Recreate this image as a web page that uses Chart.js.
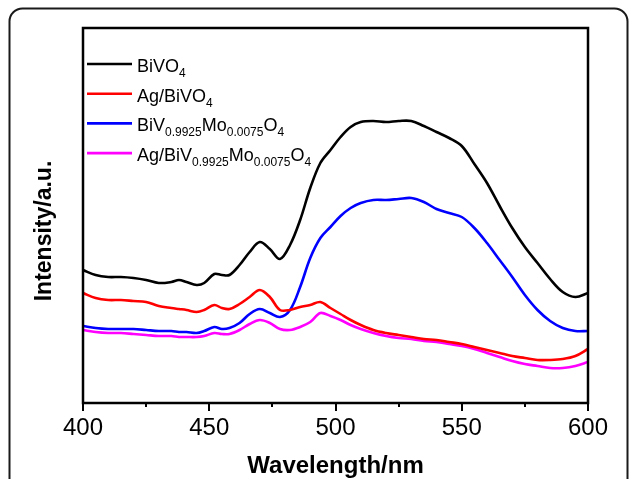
<!DOCTYPE html>
<html>
<head>
<meta charset="utf-8">
<script src="https://cdn.jsdelivr.net/npm/chart.js@4.4.1/dist/chart.umd.min.js"></script>
<style>
    html, body { margin: 0; padding: 0; background: #fff; overflow: hidden; }
    #wrap { position: relative; width: 630px; height: 479px; }
</style>
</head>
<body>
<div id="wrap"><canvas id="plchart" width="630" height="479"></canvas></div>
<script>
"use strict";

/* PL spectra, wavelength in nm, intensity in arbitrary units */
var wavelength = [400, 405, 410, 415, 420, 425, 430, 435, 438, 441, 445, 448, 452, 455, 458, 462, 466, 470, 474, 478,
    482, 486, 490, 494, 498, 502, 506, 510, 515, 520, 525, 530, 535, 540, 545, 550, 555, 560, 565, 570,
    575, 580, 585, 590, 595, 600];

var bivo4 = [133, 128, 126, 126, 125, 123, 120, 121, 123, 121, 118, 120, 129, 128, 128, 138, 151, 161, 154, 144,
    158, 183, 215, 240, 253, 266, 276, 281, 282, 281, 282, 282, 277, 271, 265, 257, 239, 220, 197, 175,
    156, 140, 124, 111, 106, 110];

var agBivo4 = [110, 105, 103, 103, 102, 101, 97, 95, 94, 93, 91, 93, 98, 95, 94, 99, 106, 113, 106, 93,
    93, 96, 98, 101, 95, 89, 83, 78, 73, 70, 68, 66, 64, 63, 61, 59, 56, 53, 50, 47,
    45, 43, 43, 44, 47, 54];

var bivMo = [77, 75, 74, 74, 74, 73, 72, 72, 71, 71, 70, 72, 76, 74, 75, 80, 89, 94, 90, 86,
    93, 116, 145, 165, 176, 187, 195, 200, 203, 203, 204, 205, 201, 194, 190, 186, 175, 160, 143, 126,
    108, 93, 82, 75, 72, 72];

var agBivMo = [73, 71, 70, 70, 69, 68, 67, 67, 66, 66, 66, 67, 70, 69, 69, 73, 79, 83, 80, 74,
    73, 76, 81, 90, 87, 83, 78, 74, 70, 67, 65, 64, 62, 61, 59, 57, 54, 50, 46, 42,
    39, 37, 35, 35, 37, 41];

var xTicks = [400, 450, 500, 550, 600];

/* legend entries: [text, subscript?] pieces */
var legendRows = [
    { color: '#000000', parts: [['BiVO', false], ['4', true]] },
    { color: '#ff0000', parts: [['Ag/BiVO', false], ['4', true]] },
    { color: '#0000ff', parts: [['BiV', false], ['0.9925', true], ['Mo', false], ['0.0075', true], ['O', false], ['4', true]] },
    { color: '#ff00ff', parts: [['Ag/BiV', false], ['0.9925', true], ['Mo', false], ['0.0075', true], ['O', false], ['4', true]] }
];

function toPoints(values) {
    return values.map(function (v, i) {
        return { x: wavelength[i], y: v };
    });
}

function lineSet(label, values, color) {
    return {
        label: label,
        data: toPoints(values),
        borderColor: color,
        backgroundColor: color,
        borderWidth: 2.6,
        pointRadius: 0,
        tension: 0.35,
        fill: false
    };
}

var FONT = "'Liberation Sans', Arial, sans-serif";

/* outer rounded frame, plot box, tick marks, y title and legend */
var decorPlugin = {
    id: 'decor',
    beforeDraw: function (chart) {
        var ctx = chart.ctx;
        ctx.save();
        ctx.strokeStyle = '#1a1a1a';
        ctx.lineWidth = 2;
        ctx.beginPath();
        ctx.roundRect(9.5, 8.5, 618, 520, 13);
        ctx.stroke();
        ctx.restore();
    },
    afterDraw: function (chart) {
        var ctx = chart.ctx;
        var a = chart.chartArea;
        var xs = chart.scales.x;
        ctx.save();

        // plot box
        ctx.strokeStyle = '#000';
        ctx.lineWidth = 2.5;
        ctx.strokeRect(a.left, a.top, a.right - a.left, a.bottom - a.top);

        // x ticks, major every 50 nm, minor every 25 nm
        ctx.lineWidth = 2;
        for (var w = 400; w <= 600; w += 25) {
            var px = Math.round(xs.getPixelForValue(w));
            var len = (w % 50 === 0) ? 8 : 4;
            ctx.beginPath();
            ctx.moveTo(px, a.bottom);
            ctx.lineTo(px, a.bottom + len);
            ctx.stroke();
        }

        // y title
        ctx.fillStyle = '#000';
        ctx.font = 'bold 23px ' + FONT;
        ctx.textAlign = 'center';
        ctx.textBaseline = 'middle';
        ctx.translate(45, 231);
        ctx.rotate(-Math.PI / 2);
        ctx.fillText('Intensity/a.u.', 0, 0);
        ctx.restore();

        // legend
        ctx.save();
        ctx.textAlign = 'left';
        ctx.textBaseline = 'alphabetic';
        ctx.fillStyle = '#000';
        legendRows.forEach(function (row, i) {
            var ly = 64 + i * 29.7;
            ctx.strokeStyle = row.color;
            ctx.lineWidth = 2.6;
            ctx.beginPath();
            ctx.moveTo(87, ly);
            ctx.lineTo(132, ly);
            ctx.stroke();
            var tx = 137;
            row.parts.forEach(function (p) {
                ctx.font = (p[1] ? '12px ' : '18px ') + FONT;
                ctx.fillText(p[0], tx, ly + 8 + (p[1] ? 5 : 0));
                tx += ctx.measureText(p[0]).width;
            });
        });
        ctx.restore();
    }
};

var plCanvas = document.getElementById('plchart').getContext('2d');

var plConfig = {
    type: 'line',
    data: {
        datasets: [
            lineSet('BiVO4', bivo4, '#000000'),
            lineSet('Ag/BiVO4', agBivo4, '#ff0000'),
            lineSet('BiV0.9925Mo0.0075O4', bivMo, '#0000ff'),
            lineSet('Ag/BiV0.9925Mo0.0075O4', agBivMo, '#ff00ff')
        ]
    },
    options: {
        responsive: false,
        animation: false,
        devicePixelRatio: 1,
        layout: {
            padding: { left: 0, top: 28, right: 42, bottom: 0 }
        },
        plugins: {
            legend: { display: false },
            tooltip: { enabled: false }
        },
        scales: {
            x: {
                type: 'linear',
                min: 400,
                max: 600,
                border: { display: false },
                grid: { display: false, drawTicks: false },
                afterBuildTicks: function (scale) {
                    scale.ticks = xTicks.map(function (v) { return { value: v }; });
                },
                afterFit: function (scale) { scale.height = 76; },
                ticks: {
                    color: '#000',
                    font: { family: FONT, size: 24 },
                    padding: 11,
                    maxRotation: 0,
                    autoSkip: false
                },
                title: {
                    display: true,
                    text: 'Wavelength/nm',
                    color: '#000',
                    font: { family: FONT, size: 24, weight: 'bold' },
                    padding: { top: 0, bottom: -2 }
                }
            },
            y: {
                min: 0,
                max: 375,
                border: { display: false },
                grid: { display: false, drawTicks: false },
                ticks: { display: false },
                afterFit: function (scale) { scale.width = 83; }
            }
        }
    },
    plugins: [decorPlugin]
};

var plChart = new Chart(plCanvas, plConfig);
</script>
</body>
</html>
